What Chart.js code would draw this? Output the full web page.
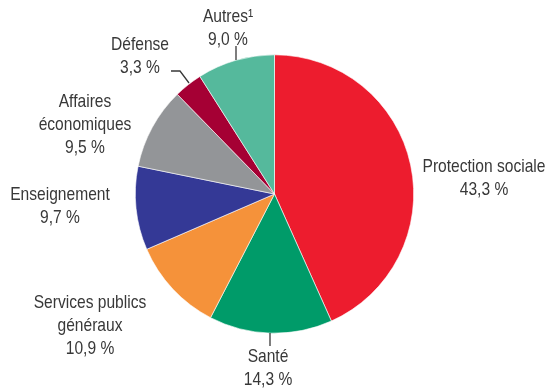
<!DOCTYPE html>
<html>
<head>
<meta charset="utf-8">
<script src="https://cdn.jsdelivr.net/npm/chart.js@4/dist/chart.umd.min.js"></script>
<style>
  html, body { margin: 0; padding: 0; background: #fff; }
</style>
</head>
<body>
<canvas id="pie" width="549" height="392"></canvas>
<script>
/* ---- data ---- */
const categories = ['Protection sociale', 'Santé', 'Services publics généraux', 'Enseignement', 'Affaires économiques', 'Défense', 'Autres¹'];
const shares = [43.3, 14.3, 10.9, 9.7, 9.5, 3.3, 9.0];
const labelLines = [['Protection sociale'], ['Santé'], ['Services publics', 'généraux'], ['Enseignement'], ['Affaires', 'économiques'], ['Défense'], ['Autres¹']];
const colours = ['#ED1C2E', '#009B69', '#F5923A', '#343996', '#939598', '#A50034', '#55B99C'];

/* ---- label layout (centre of first line, px) ---- */
const labelPos = [
  { x: 484, y: 167 },
  { x: 268, y: 357 },
  { x: 90,  y: 303 },
  { x: 60,  y: 195 },
  { x: 85,  y: 102 },
  { x: 140, y: 45 },
  { x: 228, y: 17 }
];
const leaders = [
  [[270, 333], [270, 346]],
  [[171, 71], [180, 71], [189, 83]],
  [[236, 46], [236, 60]]
];

// no condensed font installed -> squeeze Liberation Sans horizontally
const FONT = '19px "Liberation Sans", Arial, sans-serif';
const SQUEEZE = 0.82;
const LINE_H = 23;
const fmt = v => v.toFixed(1).replace('.', ',') + ' %';

const labelPlugin = {
  id: 'pieLabels',
  afterDraw(chart) {
    const ctx = chart.ctx;
    ctx.save();
    ctx.fillStyle = '#383838';
    ctx.font = FONT;
    ctx.textAlign = 'center';
    ctx.textBaseline = 'middle';
    labelLines.forEach((lines, i) => {
      const p = labelPos[i];
      const all = lines.concat([fmt(shares[i])]);
      all.forEach((t, j) => {
        ctx.save();
        ctx.translate(p.x, p.y + j * LINE_H);
        ctx.scale(SQUEEZE, 1);
        ctx.fillText(t, 0, 0);
        ctx.restore();
      });
    });
    ctx.strokeStyle = '#383838';
    ctx.lineWidth = 1.3;
    leaders.forEach(pts => {
      ctx.beginPath();
      pts.forEach(([x, y], k) => k ? ctx.lineTo(x, y) : ctx.moveTo(x, y));
      ctx.stroke();
    });
    ctx.restore();
  }
};

new Chart(document.getElementById('pie'), {
  type: 'pie',
  data: {
    labels: categories,
    datasets: [{
      data: shares,
      backgroundColor: colours,
      borderColor: '#ffffff',
      borderWidth: 0.6
    }]
  },
  options: {
    responsive: false,
    animation: false,
    devicePixelRatio: 1,
    layout: { padding: { left: 135, right: 135, top: 54, bottom: 58 } },
    plugins: {
      legend: { display: false },
      tooltip: { enabled: false }
    }
  },
  plugins: [labelPlugin]
});
</script>
</body>
</html>
